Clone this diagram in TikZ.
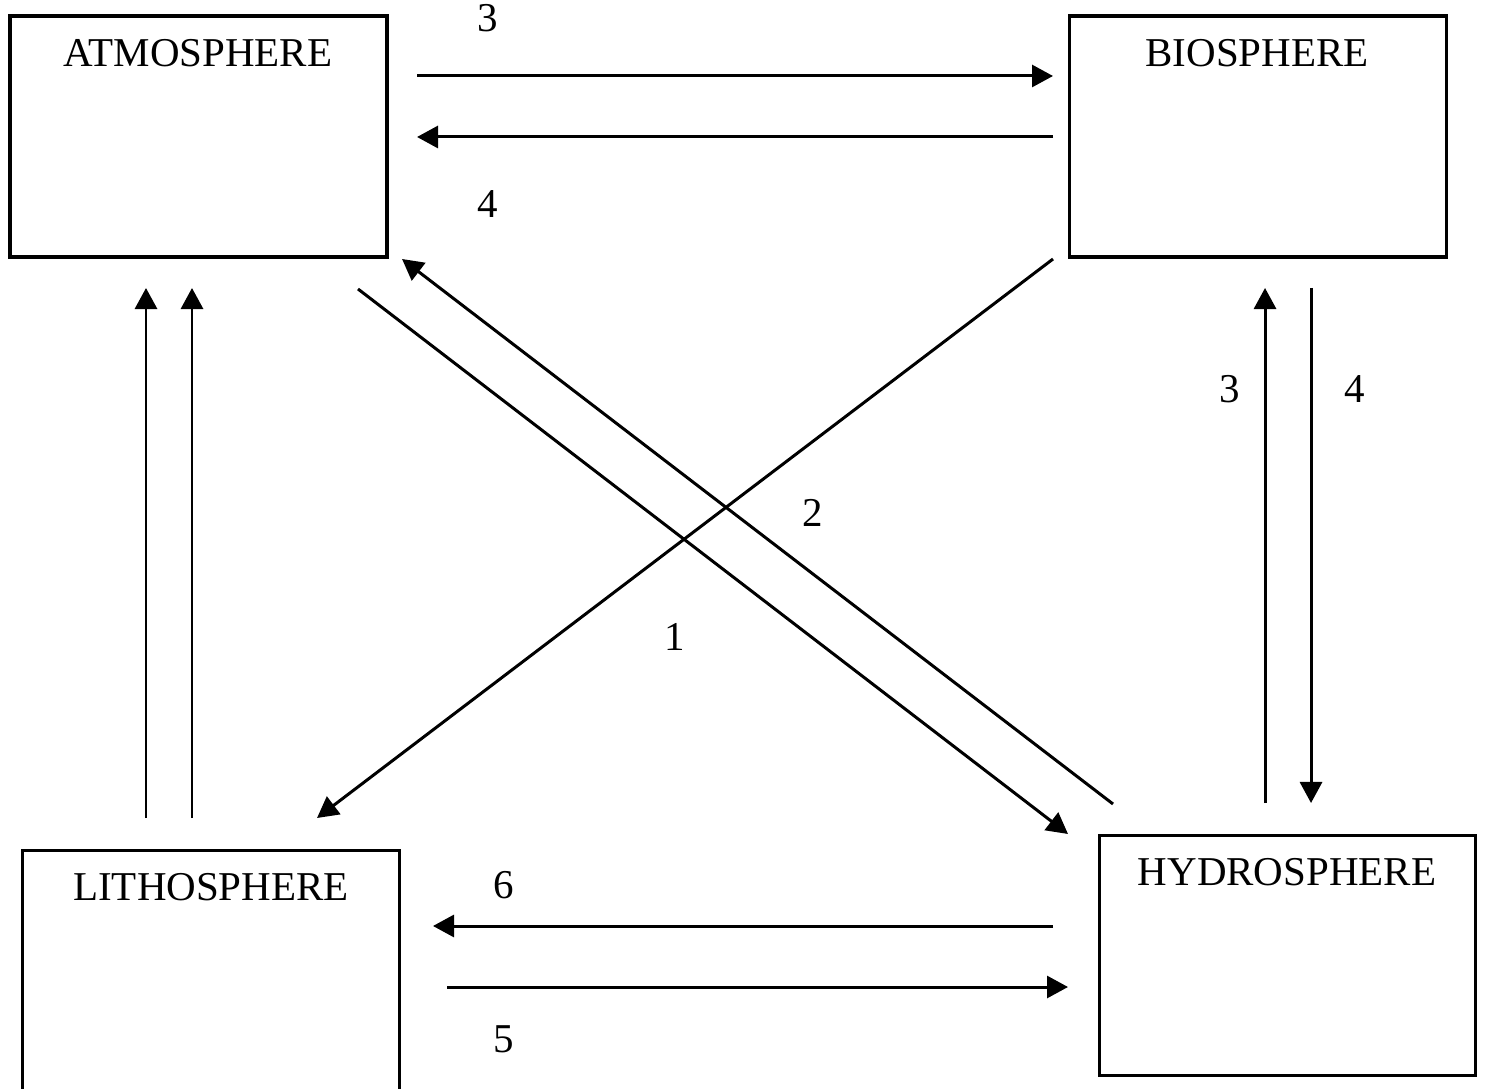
\documentclass[tikz,border=0pt]{standalone}
\usepackage{fontspec}
\setmainfont{Liberation Serif}
\usetikzlibrary{arrows.meta}
\begin{document}
\begin{tikzpicture}[x=0.01cm,y=-0.01cm,
  sphere/.style={draw,line width=1pt,rectangle,inner sep=0pt,
                 minimum width=3.77cm,minimum height=2.41cm},
  title/.style={anchor=base,inner sep=0pt,font=\fontsize{11.65}{14}\selectfont},
  num/.style={anchor=base,inner sep=0pt,font=\fontsize{11.65}{14}\selectfont},
  flow/.style={line width=0.85pt,-{Triangle[length=0.21cm,width=0.22cm]}}]
\clip (0,0) rectangle (1486,1089);

% the four spheres
\node[sphere] (atm)   at (198.5,136.5) {};
\node[sphere] (bio)   at (1258,136.5)  {};
\node[sphere] (litho) at (211,971)     {};
\node[sphere,minimum width=3.76cm,minimum height=2.40cm] (hydro) at (1287.5,955.5) {};

\node[title] (atmT)   at (198,67)   {ATMOSPHERE};
\node[title] (bioT)   at (1257,67)  {BIOSPHERE};
\node[title] (lithoT) at (211,900)  {LITHOSPHERE};
\node[title] (hydroT) at (1287,885) {HYDROSPHERE};

% end points of the exchanges
\coordinate (ab1) at (417,76);   \coordinate (ab2) at (1053,76);
\coordinate (ba1) at (1053,137); \coordinate (ba2) at (417,137);
\coordinate (la1) at (146,818);  \coordinate (la2) at (146,288);
\coordinate (lb1) at (192,818);  \coordinate (lb2) at (192,288);
\coordinate (ah1) at (358,289);  \coordinate (ah2) at (1068,834);
\coordinate (ha1) at (1113,804); \coordinate (ha2) at (402,259);
\coordinate (bl1) at (1053,259); \coordinate (bl2) at (317,818);
\coordinate (hb1) at (1265,803); \coordinate (hb2) at (1265,288);
\coordinate (bh1) at (1311,288); \coordinate (bh2) at (1311,803);
\coordinate (hl1) at (1053,926); \coordinate (hl2) at (433,926);
\coordinate (lh1) at (447,987);  \coordinate (lh2) at (1068,987);

% atmosphere <-> biosphere
\draw[flow] (ab1) -- (ab2);
\draw[flow] (ba1) -- (ba2);
% lithosphere -> atmosphere
\draw[flow] (la1) -- (la2);
\draw[flow] (lb1) -- (lb2);
% diagonal exchanges
\draw[flow] (ah1) -- (ah2);
\draw[flow] (ha1) -- (ha2);
\draw[flow] (bl1) -- (bl2);
% hydrosphere <-> biosphere
\draw[flow] (hb1) -- (hb2);
\draw[flow] (bh1) -- (bh2);
% hydrosphere <-> lithosphere
\draw[flow] (hl1) -- (hl2);
\draw[flow] (lh1) -- (lh2);

% process numbers
\node[num] (n3a) at (488,32)   {3};
\node[num] (n4a) at (488,218)  {4};
\node[num] (n2)  at (813,527)  {2};
\node[num] (n1)  at (675,650)  {1};
\node[num] (n3b) at (1230,403) {3};
\node[num] (n4b) at (1355,403) {4};
\node[num] (n6)  at (504,898)  {6};
\node[num] (n5)  at (504,1052) {5};
\end{tikzpicture}
\end{document}
